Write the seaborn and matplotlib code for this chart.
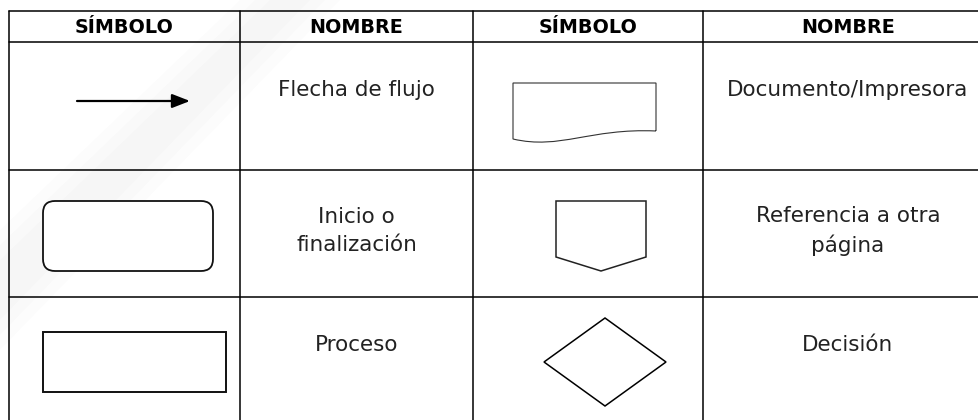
import seaborn as sns
import matplotlib.pyplot as plt
from matplotlib.patches import FancyBboxPatch, Polygon, PathPatch, Rectangle
from matplotlib.path import Path

# Table content
headers = ['SÍMBOLO', 'NOMBRE', 'SÍMBOLO', 'NOMBRE']
left_symbols = ['flecha', 'terminal', 'proceso']
left_names = ['Flecha de flujo', 'Inicio o\nfinalización', 'Proceso']
right_symbols = ['documento', 'conector', 'decision']
right_names = ['Documento/Impresora', 'Referencia a otra\npágina', 'Decisión']

# Layout (pixels, y grows downward)
col_edges = [9, 240, 473, 703, 993]
row_edges = [11, 42, 170, 297, 424]
text_dy = [48, 61, 48]

sns.set_theme(style='white')
plt.rcParams['font.family'] = ['DejaVu Sans']

fig = plt.figure(figsize=(9.79, 4.2), dpi=100)
ax = fig.add_axes([0, 0, 1, 1])
ax.set_xlim(0, 979)
ax.set_ylim(420, 0)
ax.axis('off')

# very faint watermark band in the background (soft edges via stacked layers)
for off in (0, 15, 30):
    ax.add_patch(Polygon([(0, 350 - off), (0, 230 + off), (240 + off, 0), (340 - off, 0)],
                         closed=True, fc='black', alpha=0.012, ec='none', zorder=0))

# grid lines
line_kw = dict(color='black', lw=1.1)
for x in col_edges:
    ax.plot([x, x], [row_edges[0], row_edges[-1]], **line_kw)
for y in row_edges:
    ax.plot([col_edges[0], col_edges[-1]], [y, y], **line_kw)


def draw_symbol(kind, left, top):
    if kind == 'flecha':
        ax.annotate('', xy=(left + 181, top + 59), xytext=(left + 68, top + 59),
                    arrowprops=dict(arrowstyle='-|>,head_length=0.9,head_width=0.35',
                                    color='black', lw=1.6, shrinkA=0, shrinkB=0))
    elif kind == 'terminal':
        ax.add_patch(FancyBboxPatch((left + 34, top + 31), 170, 70,
                                    boxstyle='round,pad=0,rounding_size=12',
                                    fc='white', ec='#111111', lw=1.3))
    elif kind == 'proceso':
        ax.add_patch(Rectangle((left + 34, top + 35), 183, 60,
                               fc='white', ec='#111111', lw=1.4))
    elif kind == 'documento':
        x0, x1 = left + 40, left + 183
        verts = [(x1, top + 89), (x1, top + 41), (x0, top + 41), (x0, top + 97),
                 (x0 + 47, top + 108), (x0 + 77, top + 86), (x1, top + 89)]
        codes = [Path.MOVETO, Path.LINETO, Path.LINETO, Path.LINETO,
                 Path.CURVE4, Path.CURVE4, Path.CURVE4]
        ax.add_patch(PathPatch(Path(verts, codes), fc='white', ec='#333333', lw=0.8))
    elif kind == 'conector':
        pts = [(left + 83, top + 31), (left + 173, top + 31), (left + 173, top + 87),
               (left + 128, top + 101), (left + 83, top + 87)]
        ax.add_patch(Polygon(pts, closed=True, fc='white', ec='#222222', lw=1.1))
    elif kind == 'decision':
        cx, cy = left + 132, top + 65
        pts = [(cx - 61, cy), (cx, cy - 44), (cx + 61, cy), (cx, cy + 44)]
        ax.add_patch(Polygon(pts, closed=True, fc='white', ec='black', lw=1.1))


# header row
for i, h in enumerate(headers):
    cx = (col_edges[i] + col_edges[i + 1]) / 2
    ax.text(cx, (row_edges[0] + row_edges[1]) / 2 + 1, h, ha='center', va='center',
            fontsize=13.8, fontweight='bold', color='black')

# body rows
for r in range(3):
    top = row_edges[r + 1]
    draw_symbol(left_symbols[r], col_edges[0], top)
    draw_symbol(right_symbols[r], col_edges[2], top)
    for c, names in ((1, left_names), (3, right_names)):
        cx = (col_edges[c] + col_edges[c + 1]) / 2
        ax.text(cx, top + text_dy[r], names[r], ha='center', va='center',
                fontsize=15.5, color='#222222', linespacing=1.45)

fig.savefig('out.png', dpi=100, facecolor='white')
